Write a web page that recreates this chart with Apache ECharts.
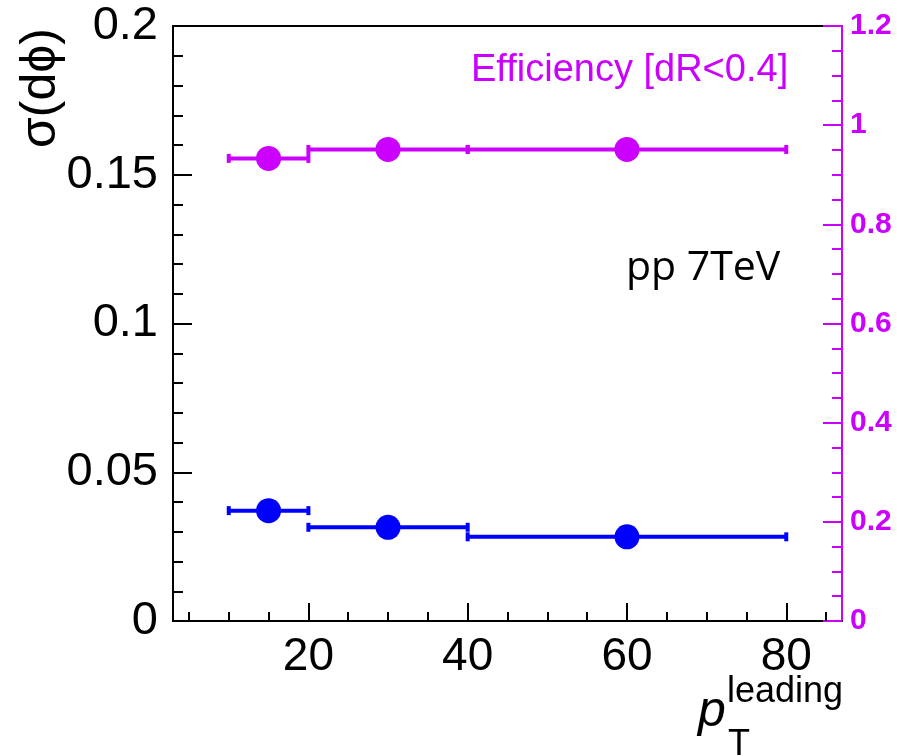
<!DOCTYPE html>
<html>
<head>
<meta charset="utf-8">
<title>σ(dϕ) and efficiency vs leading pT</title>
<script src="https://cdn.jsdelivr.net/npm/echarts@6/dist/echarts.min.js"></script>
<style>
  html, body { margin: 0; padding: 0; background: #fff; }
  #chart { width: 897px; height: 756px; }
</style>
</head>
<body>
<div id="chart"></div>
<script>
// pT bins (leading jet)
const binCenter = [15, 30, 60];
const binLow = [10, 20, 40];
const binHigh = [20, 40, 80];

// width of the dphi distribution (left axis)
const sigmaDphi = [0.0371, 0.0315, 0.0283];
// matching efficiency, dR < 0.4 (right axis)
const efficiency = [0.933, 0.951, 0.951];

// tick positions
const xMajorTicks = [20, 40, 60, 80];
const xMinorTicks = [5, 10, 15, 25, 30, 35, 45, 50, 55, 65, 70, 75, 85];

const MAGENTA = '#CC00FF';
const BLUE = '#0000FF';
const SANS = '"Liberation Sans", Arial, Helvetica, sans-serif';

function errorRows(yVals) {
  return binCenter.map((c, i) => [c, binLow[i], binHigh[i], yVals[i]]);
}
function pointRows(yVals) {
  return binCenter.map((c, i) => [c, yVals[i]]);
}

// horizontal bin-width bar with small end caps
function renderBinBar(color) {
  return function (params, api) {
    const lo = api.coord([api.value(1), api.value(3)]);
    const hi = api.coord([api.value(2), api.value(3)]);
    const capW = 4, capH = 9;
    return {
      type: 'group',
      children: [
        { type: 'line', shape: { x1: lo[0], y1: lo[1], x2: hi[0], y2: hi[1] },
          style: { stroke: color, lineWidth: 4 } },
        { type: 'rect', shape: { x: lo[0] - capW / 2, y: lo[1] - capH / 2, width: capW, height: capH },
          style: { fill: color } },
        { type: 'rect', shape: { x: hi[0] - capW / 2, y: hi[1] - capH / 2, width: capW, height: capH },
          style: { fill: color } }
      ]
    };
  };
}

const chart = echarts.init(document.getElementById('chart'), null, { renderer: 'canvas' });

const option = {
  animation: false,
  backgroundColor: '#fff',
  grid: {
    left: 173, right: 55, top: 26, bottom: 135,
    show: true, borderColor: '#000', borderWidth: 2, backgroundColor: 'transparent'
  },
  xAxis: [
    {
      type: 'value', min: 3, max: 87, position: 'bottom',
      splitLine: { show: false },
      axisLine: { show: true, onZero: false, lineStyle: { color: '#000', width: 2 } },
      axisTick: { show: true, inside: true, length: 18, customValues: xMajorTicks,
                  lineStyle: { color: '#000', width: 2 } },
      axisLabel: { show: true, customValues: xMajorTicks, margin: 13,
                   color: '#000', fontSize: 46, fontFamily: SANS }
    },
    {
      type: 'value', min: 3, max: 87, position: 'bottom',
      splitLine: { show: false },
      axisLine: { show: false },
      axisTick: { show: true, inside: true, length: 9, customValues: xMinorTicks,
                  lineStyle: { color: '#000', width: 2 } },
      axisLabel: { show: false }
    }
  ],
  yAxis: [
    {
      type: 'value', min: 0, max: 0.2, interval: 0.05, position: 'left',
      splitLine: { show: false },
      axisLine: { show: true, onZero: false, lineStyle: { color: '#000', width: 2 } },
      axisTick: { show: true, inside: true, length: 19, lineStyle: { color: '#000', width: 2 } },
      minorTick: { show: true, splitNumber: 5, length: 10, lineStyle: { color: '#000', width: 2 } },
      axisLabel: { margin: 15, color: '#000', fontSize: 47, fontFamily: SANS }
    },
    {
      type: 'value', min: 0, max: 1.2, interval: 0.2, position: 'right',
      splitLine: { show: false },
      axisLine: { show: true, onZero: false, lineStyle: { color: MAGENTA, width: 2 } },
      axisTick: { show: true, inside: true, length: 19, lineStyle: { color: MAGENTA, width: 2 } },
      minorTick: { show: true, splitNumber: 4, length: 10, lineStyle: { color: MAGENTA, width: 2 } },
      axisLabel: { margin: 8, color: MAGENTA, fontSize: 30, fontWeight: 'bold', fontFamily: SANS }
    }
  ],
  series: [
    {
      name: 'sigma bins', type: 'custom', xAxisIndex: 0, yAxisIndex: 0,
      renderItem: renderBinBar(BLUE), data: errorRows(sigmaDphi),
      encode: { x: [0, 1, 2], y: 3 }, z: 3, silent: true
    },
    {
      name: 'sigma', type: 'scatter', xAxisIndex: 0, yAxisIndex: 0,
      symbol: 'circle', symbolSize: 25, itemStyle: { color: BLUE, opacity: 1 },
      data: pointRows(sigmaDphi), z: 4, silent: true
    },
    {
      name: 'eff bins', type: 'custom', xAxisIndex: 0, yAxisIndex: 1,
      renderItem: renderBinBar(MAGENTA), data: errorRows(efficiency),
      encode: { x: [0, 1, 2], y: 3 }, z: 3, silent: true
    },
    {
      name: 'eff', type: 'scatter', xAxisIndex: 0, yAxisIndex: 1,
      symbol: 'circle', symbolSize: 25, itemStyle: { color: MAGENTA, opacity: 1 },
      data: pointRows(efficiency), z: 4, silent: true
    }
  ],
  graphic: [
    { type: 'text', x: 471, y: 71,
      style: { text: 'Efficiency [dR<0.4]', fill: MAGENTA, font: '38px ' + SANS,
               align: 'left', verticalAlign: 'middle' } },
    { type: 'text', x: 626, y: 268,
      style: { text: 'pp 7TeV', fill: '#000', font: '41px "Open Sans", sans-serif',
               align: 'left', verticalAlign: 'middle' } },
    { type: 'text', x: 41, y: 88, rotation: Math.PI / 2,
      style: { text: 'σ(dϕ)', fill: '#000', font: '50px ' + SANS,
               align: 'center', verticalAlign: 'middle' } },
    { type: 'text', x: 698, y: 712,
      style: { text: 'p', fill: '#000', font: 'italic 50px ' + SANS,
               align: 'left', verticalAlign: 'middle' } },
    { type: 'text', x: 727, y: 692,
      style: { text: 'leading', fill: '#000', font: '36px ' + SANS,
               align: 'left', verticalAlign: 'middle' } },
    { type: 'text', x: 728, y: 745,
      style: { text: 'T', fill: '#000', font: '36px ' + SANS,
               align: 'left', verticalAlign: 'middle' } }
  ]
};

chart.setOption(option);
</script>
</body>
</html>
